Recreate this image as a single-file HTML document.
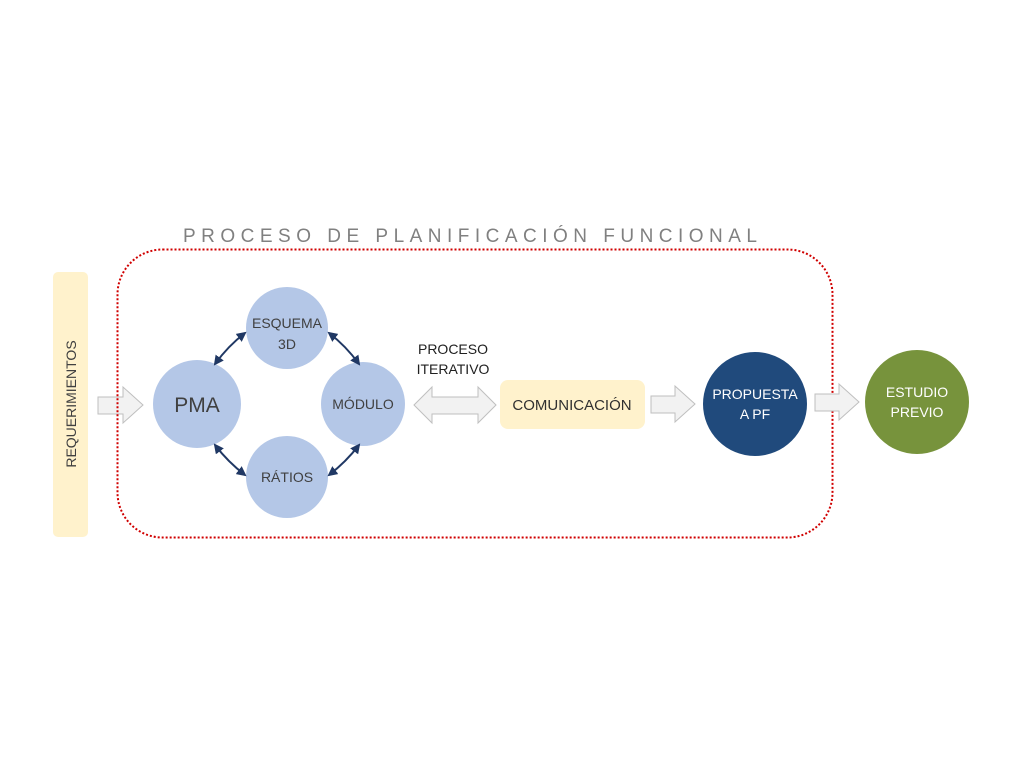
<!DOCTYPE html>
<html><head><meta charset="utf-8"><style>html,body{margin:0;padding:0;background:#fff;}svg{display:block}</style></head>
<body>
<svg width="1024" height="768" viewBox="0 0 1024 768" xmlns="http://www.w3.org/2000/svg" font-family="Liberation Sans, sans-serif">
<defs>
<marker id="ah" markerWidth="10" markerHeight="10" refX="8" refY="5" orient="auto-start-reverse" markerUnits="userSpaceOnUse">
<path d="M0,0 L10,5 L0,10 Z" fill="#203864"/>
</marker>
</defs>
<text x="183" y="242" font-size="19" fill="#808080" textLength="574" lengthAdjust="spacing">PROCESO DE PLANIFICACIÓN FUNCIONAL</text>
<rect x="53" y="272" width="35" height="265" rx="5" fill="#fff2cc"/>
<text transform="translate(76,404) rotate(-90)" text-anchor="middle" font-size="14" fill="#404040">REQUERIMIENTOS</text>
<path d="M98,397 H123 V387 L143,405 L123,423 V414 H98 Z" fill="#f2f2f2" stroke="#bfbfbf" stroke-width="1"/>
<rect x="117.5" y="249.5" width="715" height="288" rx="45" fill="none" stroke="#d00000" stroke-width="2" stroke-dasharray="2,2"/>
<g fill="#b4c7e7">
<circle cx="197" cy="404" r="44"/>
<circle cx="287" cy="328" r="41"/>
<circle cx="363" cy="404" r="42"/>
<circle cx="287" cy="477" r="41"/>
</g>
<g stroke="#203864" stroke-width="2" fill="none" marker-start="url(#ah)" marker-end="url(#ah)">
<path d="M215,364 Q228,346 245,333"/>
<path d="M329,333 Q346,346 359,364"/>
<path d="M359,445 Q346,462 329,475"/>
<path d="M245,475 Q228,462 215,445"/>
</g>
<g fill="#404040" text-anchor="middle">
<text x="197" y="412" font-size="21">PMA</text>
<text x="287" y="328" font-size="14">ESQUEMA</text>
<text x="287" y="349" font-size="14">3D</text>
<text x="363" y="409" font-size="14">MÓDULO</text>
<text x="287" y="482" font-size="14">RÁTIOS</text>
<text x="453" y="354" font-size="14" fill="#202020">PROCESO</text>
<text x="453" y="374" font-size="14" fill="#202020">ITERATIVO</text>
</g>
<path d="M414,405 L432,387 V397 H478 V387 L496,405 L478,423 V414 H432 V423 Z" fill="#f2f2f2" stroke="#bfbfbf"/>
<rect x="500" y="380" width="145" height="49" rx="8" fill="#fff2cc"/>
<text x="572" y="410" text-anchor="middle" font-size="15" fill="#303030">COMUNICACIÓN</text>
<path d="M651,396 H675 V386 L695,404 L675,422 V413 H651 Z" fill="#f2f2f2" stroke="#bfbfbf"/>
<circle cx="755" cy="404" r="52" fill="#204a7c"/>
<text x="755" y="399" text-anchor="middle" font-size="14" fill="#fff">PROPUESTA</text>
<text x="755" y="419" text-anchor="middle" font-size="14" fill="#fff">A PF</text>
<path d="M815,394 H839 V384 L859,402 L839,420 V411 H815 Z" fill="#f2f2f2" stroke="#bfbfbf"/>
<circle cx="917" cy="402" r="52" fill="#77933c"/>
<text x="917" y="397" text-anchor="middle" font-size="14" fill="#fff">ESTUDIO</text>
<text x="917" y="417" text-anchor="middle" font-size="14" fill="#fff">PREVIO</text>
</svg>
</body></html>
